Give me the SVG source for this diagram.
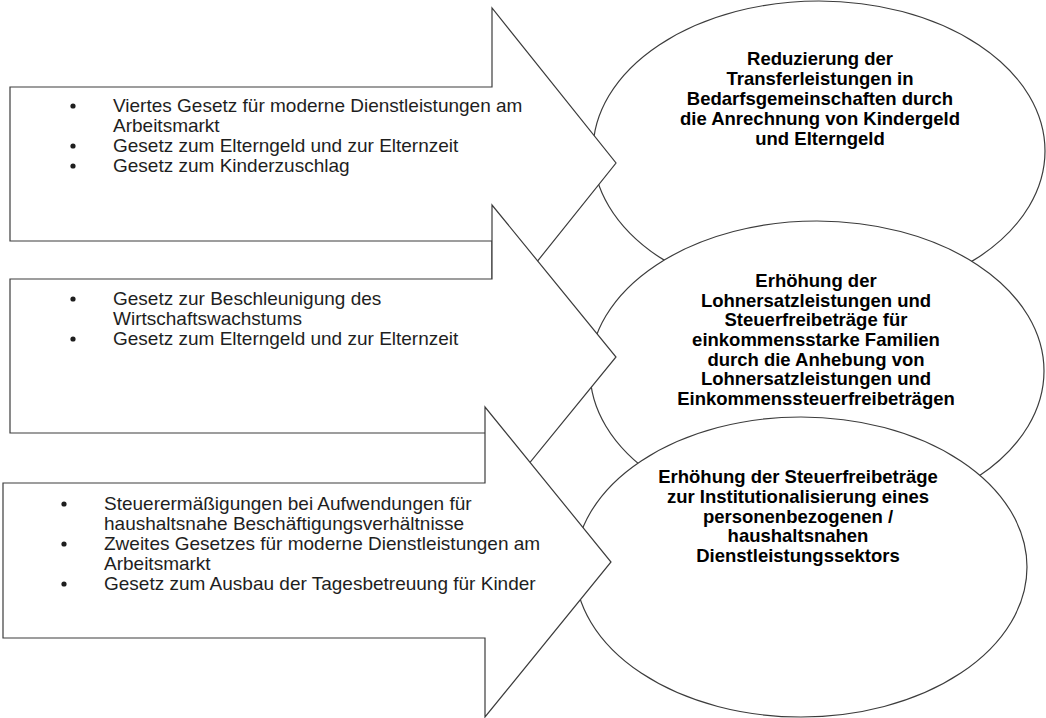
<svg xmlns="http://www.w3.org/2000/svg" width="1046" height="718" viewBox="0 0 1046 718">
<style>
.shape{fill:#fff;stroke:#3c3c3c;stroke-width:1.2}
.t{font-family:"Liberation Sans",Arial,sans-serif;font-size:19px;fill:#1e1e1e}
.b{font-family:"Liberation Sans",Arial,sans-serif;font-size:18.5px;font-weight:bold;fill:#000;text-anchor:middle}
.dot{fill:#1e1e1e}
</style>
<rect width="1046" height="718" fill="#fff"/>
<g id="ellipse1">
<ellipse class="shape" cx="819" cy="151" rx="226" ry="150"/>
<text class="b" x="820" y="65">Reduzierung der</text>
<text class="b" x="820" y="85">Transferleistungen in</text>
<text class="b" x="820" y="105">Bedarfsgemeinschaften durch</text>
<text class="b" x="820" y="125">die Anrechnung von Kindergeld</text>
<text class="b" x="820" y="145">und Elterngeld</text>
</g>
<g id="ellipse2">
<ellipse class="shape" cx="817" cy="371" rx="227" ry="150"/>
<text class="b" x="816" y="287">Erhöhung der</text>
<text class="b" x="816" y="307">Lohnersatzleistungen und</text>
<text class="b" x="816" y="326">Steuerfreibeträge für</text>
<text class="b" x="816" y="346">einkommensstarke Familien</text>
<text class="b" x="816" y="366">durch die Anhebung von</text>
<text class="b" x="816" y="385">Lohnersatzleistungen und</text>
<text class="b" x="816" y="405">Einkommenssteuerfreibeträgen</text>
</g>
<g id="ellipse3">
<ellipse class="shape" cx="801" cy="567" rx="226" ry="150"/>
<text class="b" x="798" y="483">Erhöhung der Steuerfreibeträge</text>
<text class="b" x="798" y="503">zur Institutionalisierung  eines</text>
<text class="b" x="798" y="523">personenbezogenen /</text>
<text class="b" x="798" y="542">haushaltsnahen</text>
<text class="b" x="798" y="562">Dienstleistungssektors</text>
</g>
<g id="arrow1">
<path class="shape" d="M10,87 H492 V8 L616,163 L492,318 V241 H10 Z"/>
<circle class="dot" cx="73" cy="106" r="2.6"/>
<text class="t" x="113" y="112">Viertes Gesetz für moderne Dienstleistungen am</text>
<text class="t" x="113" y="132">Arbeitsmarkt</text>
<circle class="dot" cx="73" cy="146" r="2.6"/>
<text class="t" x="113" y="152">Gesetz zum Elterngeld und zur Elternzeit</text>
<circle class="dot" cx="73" cy="166" r="2.6"/>
<text class="t" x="113" y="172">Gesetz zum Kinderzuschlag</text>
</g>
<g id="arrow2">
<path class="shape" d="M10,279 H492 V205 L616,357 L492,509 V433 H10 Z"/>
<circle class="dot" cx="73" cy="299" r="2.6"/>
<text class="t" x="113" y="305">Gesetz zur Beschleunigung des</text>
<text class="t" x="113" y="325">Wirtschaftswachstums</text>
<circle class="dot" cx="73" cy="339" r="2.6"/>
<text class="t" x="113" y="345">Gesetz zum Elterngeld und zur Elternzeit</text>
</g>
<g id="arrow3">
<path class="shape" d="M3,483 H485 V407 L611,562 L485,717 V638 H3 Z"/>
<circle class="dot" cx="64" cy="504" r="2.6"/>
<text class="t" x="104" y="510">Steuerermäßigungen bei Aufwendungen für</text>
<text class="t" x="104" y="530">haushaltsnahe Beschäftigungsverhältnisse</text>
<circle class="dot" cx="64" cy="544" r="2.6"/>
<text class="t" x="104" y="550">Zweites Gesetzes für moderne Dienstleistungen am</text>
<text class="t" x="104" y="570">Arbeitsmarkt</text>
<circle class="dot" cx="64" cy="584" r="2.6"/>
<text class="t" x="104" y="590">Gesetz zum Ausbau der Tagesbetreuung für Kinder</text>
</g>
<g id="connectors"/>
</svg>
